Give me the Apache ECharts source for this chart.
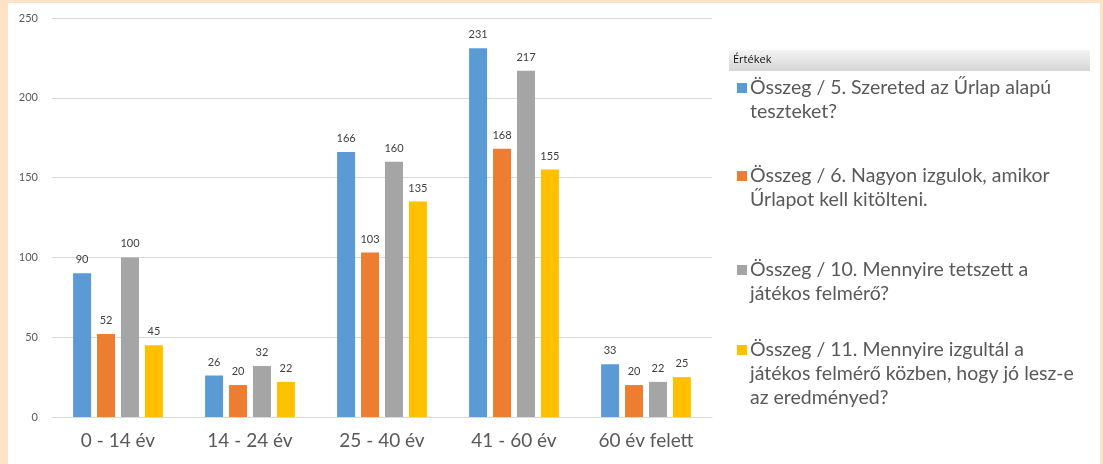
<!DOCTYPE html>
<html>
<head>
<meta charset="utf-8">
<script src="https://cdn.jsdelivr.net/npm/echarts@6/dist/echarts.min.js"></script>
<style>
html,body{margin:0;padding:0;background:#FFE3C6;width:1103px;height:464px;overflow:hidden;}
#chart{position:absolute;left:8px;top:3px;width:1092px;height:461px;background:#fff;}
</style>
</head>
<body>
<div id="chart"></div>
<script>
const categories = ['0 - 14 év', '14 - 24 év', '25 - 40 év', '41 - 60 év', '60 év felett'];
const seriesNames = [
  'Összeg / 5. Szereted az Űrlap alapú teszteket?',
  'Összeg / 6. Nagyon izgulok, amikor Űrlapot kell kitölteni.',
  'Összeg / 10. Mennyire tetszett a játékos felmérő?',
  'Összeg / 11. Mennyire izgultál a játékos felmérő közben, hogy jó lesz-e az eredményed?'
];
const legendLines = [
  'Összeg / 5. Szereted az Űrlap alapú\nteszteket?',
  'Összeg / 6. Nagyon izgulok, amikor\nŰrlapot kell kitölteni.',
  'Összeg / 10. Mennyire tetszett a\njátékos felmérő?',
  'Összeg / 11. Mennyire izgultál a\njátékos felmérő közben, hogy jó lesz-e\naz eredményed?'
];
const q5 = [90, 26, 166, 231, 33];
const q6 = [52, 20, 103, 168, 20];
const q10 = [100, 32, 160, 217, 22];
const q11 = [45, 22, 135, 155, 25];
const yTicks = [0, 50, 100, 150, 200, 250];
const colors = ['#5B9BD5', '#ED7D31', '#A5A5A5', '#FFC000'];
const legendTitle = 'Értékek';

const seriesData = [q5, q6, q10, q11];
const chart = echarts.init(document.getElementById('chart'));

const legendTops = [85, 173, 267, 347];
const graphics = [
  {
    type: 'rect', left: 721, top: 47,
    shape: { width: 361, height: 21 },
    style: {
      fill: new echarts.graphic.LinearGradient(0, 0, 0, 1, [
        { offset: 0, color: '#f4f4f4' }, { offset: 1, color: '#d4d4d4' }
      ])
    }
  },
  {
    type: 'text', left: 725, top: 51,
    style: { text: legendTitle, fill: '#111', font: '11px "Open Sans", sans-serif' }
  }
];
seriesNames.forEach((n, i) => {
  graphics.push({
    type: 'rect', left: 729, top: legendTops[i] - 5,
    shape: { width: 10, height: 10 },
    style: { fill: colors[i] }
  });
  graphics.push({
    type: 'text', left: 742, top: legendTops[i] - 12,
    style: {
      text: legendLines[i], fill: '#595959',
      font: '19.5px Lato, sans-serif', lineHeight: 24
    }
  });
});

chart.setOption({
  animation: false,
  color: colors,
  grid: { left: 44, right: 388, top: 15, bottom: 47, containLabel: false },
  xAxis: {
    type: 'category',
    data: categories,
    axisLine: { lineStyle: { color: '#d9d9d9' } },
    axisTick: { show: false },
    axisLabel: { color: '#595959', fontSize: 19, fontFamily: 'Lato, sans-serif', margin: 14 }
  },
  yAxis: {
    type: 'value',
    min: yTicks[0], max: yTicks[yTicks.length - 1], interval: 50,
    axisLine: { show: false },
    axisTick: { show: false },
    splitLine: { lineStyle: { color: '#d9d9d9' } },
    axisLabel: { color: '#595959', fontSize: 11, fontFamily: 'Lato, sans-serif', margin: 14 }
  },
  series: seriesData.map((d, i) => ({
    name: seriesNames[i],
    type: 'bar',
    data: d,
    barWidth: 18,
    barGap: '33%',
    itemStyle: { color: colors[i] },
    label: {
      show: true, position: 'top', distance: 8,
      color: '#404040', fontSize: 11, fontFamily: 'Lato, sans-serif'
    }
  })),
  graphic: graphics
});
</script>
</body>
</html>
